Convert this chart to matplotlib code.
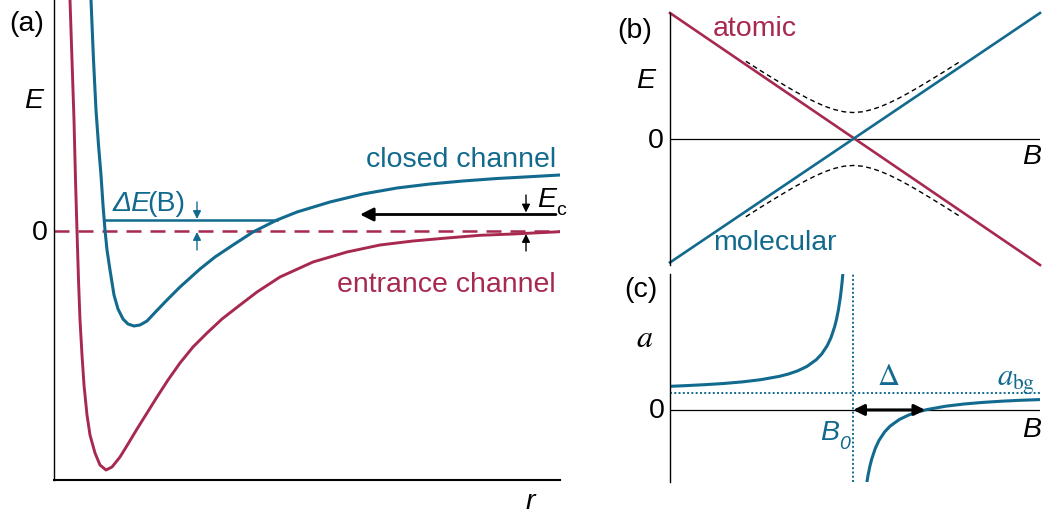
import matplotlib.pyplot as plt

plt.rcParams['font.family'] = ['Liberation Sans', 'DejaVu Sans']
plt.rcParams['mathtext.fontset'] = 'custom'
plt.rcParams['mathtext.rm'] = 'Liberation Sans'
plt.rcParams['mathtext.it'] = 'Liberation Sans:italic'

azul = '#126a8e'
rojo = '#a8294f'
fs = 20.5

# (a) potenciales de los canales (unidades arbitrarias)
r_cerrado = [37, 39.5, 42, 44.5, 47, 49, 51, 53, 56, 60, 64, 69, 74, 80, 86, 93, 101, 112,
             126, 146, 161, 179, 199, 211, 223, 243, 276, 309, 343, 376, 409, 443, 476, 506]
E_cerrado = [231, 171, 121, 86, 56, 26, 1, -19, -39, -64, -78, -88, -93, -95, -94, -90, -81.5, -70,
             -56, -38, -26, -14, -1, 5, 11, 19, 29, 37, 43, 47, 50, 52.5, 54.3, 56]
r_entrada = [16, 18, 20, 21.5, 23, 24.5, 26, 28, 30, 33, 36, 41, 46, 52, 58, 66, 74, 83, 93,
             103, 114, 126, 139, 153, 168, 186, 203, 226, 259, 293, 326, 359, 393, 426, 459, 506]
E_entrada = [231, 171, 111, 51, 0, -49, -89, -124, -154, -184, -204, -222, -234, -239, -236,
             -226, -213, -198, -182, -166, -149, -132, -116, -102, -88, -74, -61, -46, -31, -21,
             -14, -10, -7, -4.3, -3, -0.7]
r_ligado = [50, 223]
E_ligado = 11
E_c = 16.5

# (b) niveles frente a B
B_lin = [-0.99, 1.01]
E_atomico = [1.0, -1.0]
E_molecular = [-0.98, 1.0]
B_cruce = [-0.58, -0.5, -0.45, -0.4, -0.35, -0.3, -0.25, -0.2, -0.15, -0.1, -0.05, 0.0,
           0.05, 0.1, 0.15, 0.2, 0.25, 0.3, 0.35, 0.4, 0.45, 0.5, 0.58]
E_cruce = [0.617, 0.542, 0.497, 0.452, 0.408, 0.366, 0.326, 0.290, 0.258, 0.233, 0.216, 0.21,
           0.216, 0.233, 0.258, 0.290, 0.326, 0.366, 0.408, 0.452, 0.497, 0.542, 0.617]

# (c) longitud de dispersion
B_izq = [-0.99, -0.9, -0.8, -0.7, -0.6, -0.5, -0.4, -0.35, -0.3, -0.25, -0.2, -0.17, -0.14,
         -0.12, -0.1, -0.09, -0.08, -0.07, -0.065, -0.06, -0.055]
a_izq = [1.39, 1.433, 1.488, 1.557, 1.65, 1.78, 1.975, 2.114, 2.3, 2.56, 2.95, 3.294, 3.786,
         4.25, 4.9, 5.333, 5.875, 6.571, 7.0, 7.5, 8.09]
B_der = [0.074, 0.08, 0.09, 0.1, 0.12, 0.14, 0.17, 0.2, 0.25, 0.3, 0.35, 0.4, 0.5, 0.6,
         0.7, 0.8, 0.9, 1.01]
a_der = [-4.27, -3.875, -3.333, -2.9, -2.25, -1.786, -1.294, -0.95, -0.56, -0.3, -0.114, 0.025,
         0.22, 0.35, 0.443, 0.513, 0.567, 0.61]
a_bg = 1.0
B0 = 0.0
Delta = 0.39

W, H = 1047, 519


def px(x, y):
    return x / W, 1 - y / H


def flecha(ax, xy, xytext, color, lw=1.0, ms=12, estilo='-|>'):
    ax.annotate('', xy=xy, xytext=xytext,
                arrowprops=dict(arrowstyle=estilo, lw=lw, color=color, mutation_scale=ms,
                                shrinkA=0, shrinkB=0))


fig = plt.figure(figsize=(10.47, 5.19), dpi=100)

# ---- panel (a)
ax = fig.add_axes([54 / W, 1 - 480 / H, 506 / W, 480 / H])
ax.set_xlim(0, 506)
ax.set_ylim(-249, 231)
for s in ['top', 'right']:
    ax.spines[s].set_visible(False)
ax.spines['left'].set_linewidth(1.0)
ax.spines['bottom'].set_linewidth(1.5)
ax.set_xticks([])
ax.set_yticks([])
ax.plot([0, 506], [0, 0], color=rojo, lw=1.8, dashes=(6, 3.6))
ax.plot(r_entrada, E_entrada, color=rojo, lw=2.1)
ax.plot(r_cerrado, E_cerrado, color=azul, lw=2.2)
ax.plot(r_ligado, [E_ligado, E_ligado], color=azul, lw=1.8)

flecha(ax, (306, E_c), (502, E_c), 'black', lw=2, ms=20)
flecha(ax, (143, E_ligado + 1), (143, 29), azul)
flecha(ax, (143, -1), (143, -19), azul)
flecha(ax, (472, E_c + 2), (472, 36), 'black')
flecha(ax, (472, -3), (472, -20), 'black')

ax.text(502, 64, 'closed channel', color=azul, fontsize=fs, ha='right', va='baseline')
ax.text(502, -61, 'entrance channel', color=rojo, fontsize=fs, ha='right', va='baseline')
t = ax.text(59, 20, 'ΔE', color=azul, fontsize=fs, style='italic', va='baseline')
ax.annotate('(B)', xy=(1, 0), xycoords=t, xytext=(-2.5, 0), textcoords='offset points',
            color=azul, fontsize=fs, va='bottom', ha='left')
t = ax.text(483, 24, 'E', color='black', fontsize=fs, style='italic', va='baseline')
ax.annotate('c', xy=(1, 0), xycoords=t, xytext=(0, -4), textcoords='offset points',
            fontsize=14, va='bottom', ha='left')

fig.text(*px(27, 24), '(a)', fontsize=fs, ha='center', va='center')
fig.text(*px(34, 101), 'E', fontsize=fs, style='italic', ha='center', va='center')
fig.text(*px(48, 233), '0', fontsize=fs, ha='right', va='center')
fig.text(*px(530, 502), 'r', fontsize=fs, style='italic', ha='center', va='center')

# ---- panel (b)
bx = fig.add_axes([670 / W, 1 - 265 / H, 370 / W, 252 / H])
bx.set_xlim(-0.99, 1.01)
bx.set_ylim(-1, 1)
for s in ['top', 'right', 'bottom']:
    bx.spines[s].set_visible(False)
bx.spines['left'].set_linewidth(1.0)
bx.set_xticks([])
bx.set_yticks([])
bx.axhline(0, color='black', lw=0.9)
bx.plot(B_cruce, E_cruce, color='black', lw=1.0, dashes=(3.5, 2.5))
bx.plot(B_cruce, [-e for e in E_cruce], color='black', lw=1.0, dashes=(3.5, 2.5))
bx.plot(B_lin, E_atomico, color=rojo, lw=1.9, clip_on=False)
bx.plot(B_lin, E_molecular, color=azul, lw=1.9, clip_on=False)
fig.text(*px(713, 29), 'atomic', color=rojo, fontsize=fs, ha='left', va='center')
fig.text(*px(713, 243), 'molecular', color=azul, fontsize=fs, ha='left', va='center')
fig.text(*px(635, 31), '(b)', fontsize=fs, ha='center', va='center')
fig.text(*px(646, 81), 'E', fontsize=fs, style='italic', ha='center', va='center')
fig.text(*px(664, 141), '0', fontsize=fs, ha='right', va='center')
fig.text(*px(1041, 157), 'B', fontsize=fs, style='italic', ha='right', va='center')

# ---- panel (c)
cx = fig.add_axes([670 / W, 1 - 482 / H, 370 / W, 208 / H])
cx.set_xlim(-0.99, 1.01)
cx.set_ylim(-4.24, 8.0)
for s in ['top', 'right', 'bottom']:
    cx.spines[s].set_visible(False)
cx.spines['left'].set_linewidth(1.0)
cx.set_xticks([])
cx.set_yticks([])
cx.axhline(0, color='black', lw=0.9)
cx.axhline(a_bg, color=azul, lw=1.4, ls=(0, (1, 1.2)))
cx.axvline(B0, color=azul, lw=1.4, ls=(0, (1, 1.2)))
cx.plot(B_izq, a_izq, color=azul, lw=2.2)
cx.plot(B_der, a_der, color=azul, lw=2.2)
flecha(cx, (B0, 0), (Delta, 0), 'black', lw=2.2, ms=16, estilo='<|-|>')
cx.text(0.19, 1.47, r'$\Delta$', math_fontfamily='stix', color=azul, fontsize=22,
        ha='center', va='baseline')
cx.text(0.985, 1.45, r'$a_{\mathrm{bg}}$', math_fontfamily='stix', color=azul, fontsize=22,
        ha='right', va='baseline')
t = cx.text(-0.18, -1.76, 'B', color=azul, fontsize=fs, style='italic', va='baseline')
cx.annotate('0', xy=(1, 0), xycoords=t, xytext=(0, -5), textcoords='offset points',
            color=azul, fontsize=14, style='italic', va='bottom', ha='left')
fig.text(*px(641, 290), '(c)', fontsize=fs, ha='center', va='center')
fig.text(*px(645, 339), r'$a$', math_fontfamily='stix', fontsize=23, ha='center', va='center')
fig.text(*px(665, 411), '0', fontsize=fs, ha='right', va='center')
fig.text(*px(1041, 430), 'B', fontsize=fs, style='italic', ha='right', va='center')

fig.savefig('out.png', dpi=100)
